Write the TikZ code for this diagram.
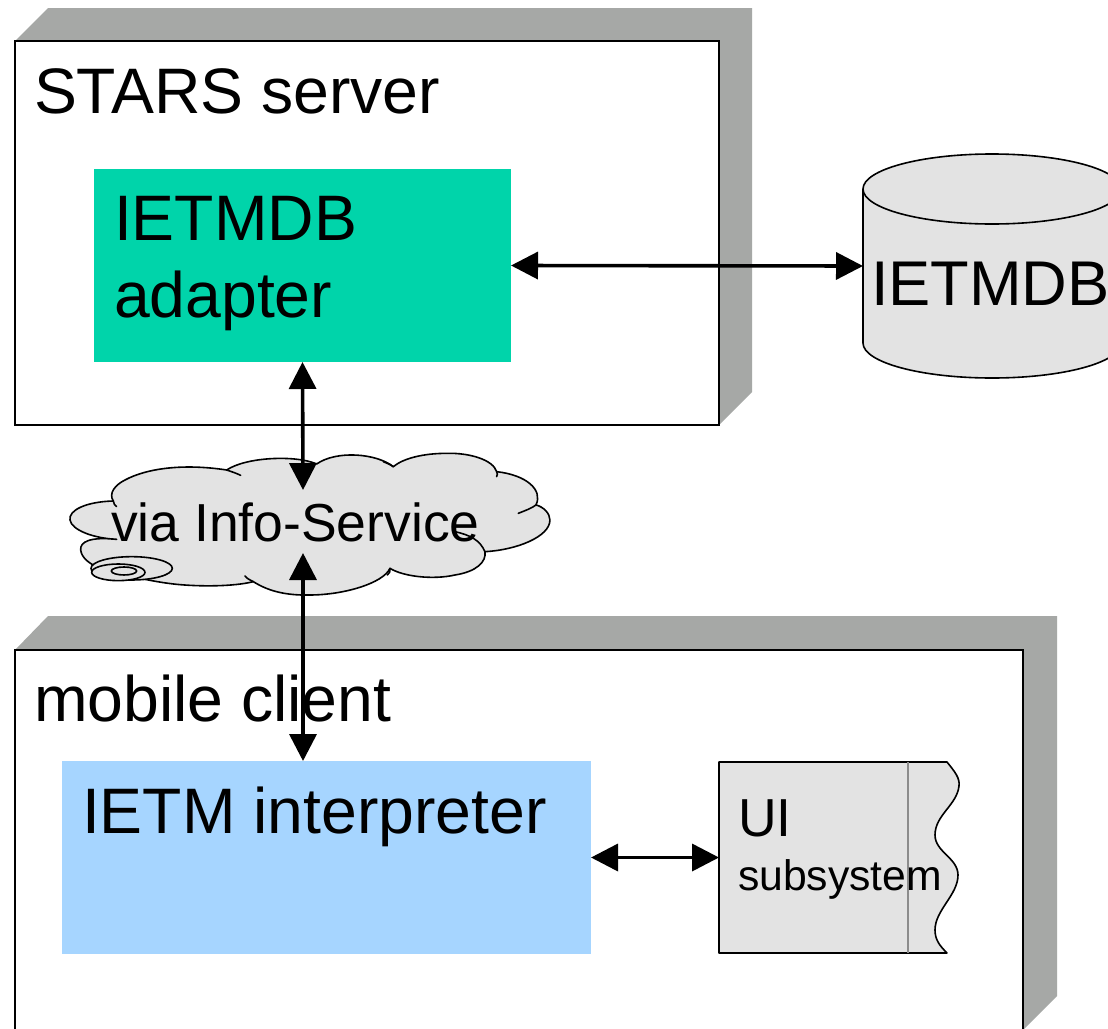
\documentclass[tikz,border=0pt]{standalone}
\usepackage{fontspec}
\setmainfont{Liberation Sans}
\usetikzlibrary{arrows.meta}
\definecolor{sidegrey}{HTML}{A6A8A6}
\definecolor{shapegrey}{HTML}{E3E3E3}
\definecolor{tealbox}{HTML}{00D4AA}
\definecolor{bluebox}{HTML}{A6D5FF}
\tikzset{
  bigtext/.style={inner sep=0pt,outer sep=0pt,anchor=base west,font=\fontsize{64.3}{70}\selectfont},
  dbtext/.style={inner sep=0pt,outer sep=0pt,anchor=base west,font=\fontsize{63.2}{70}\selectfont},
  midtext/.style={inner sep=0pt,outer sep=0pt,anchor=base west,font=\fontsize{53.5}{60}\selectfont},
  smalltext/.style={inner sep=0pt,outer sep=0pt,anchor=base west,font=\fontsize{42.7}{50}\selectfont},
  frontbox/.style={draw=black,fill=white,line width=1.6pt,inner sep=0pt,outer sep=0pt,anchor=north west},
  flatbox/.style={inner sep=0pt,outer sep=0pt,anchor=north west},
  sideface/.style={fill=sidegrey,draw=none},
  outline/.style={draw=black,line width=1.6pt,line join=round},
  tailline/.style={draw=black,line width=1.6pt,line cap=round},
  twoway/.style={line width=3.6pt,{Triangle[length=27pt,width=27pt]}-{Triangle[length=27pt,width=27pt]}},
}
\begin{document}
\begin{tikzpicture}[x=1pt,y=-1pt]
\clip (0,0) rectangle (1108,1028);
\fill[white] (0,0) rectangle (1108,1028);
% server block
\fill[sideface] (15,41) -- (48,8) -- (752,8) -- (752,392) -- (719,425) -- cycle;
\node[frontbox,minimum width=704pt,minimum height=384pt] (server) at (15,41) {};
\node[bigtext] (servertext) at (34,113) {STARS server};
\node[flatbox,fill=tealbox,minimum width=417pt,minimum height=193pt] (adapter) at (94,169) {};
\node[bigtext] (adaptera) at (114,240) {IETMDB};
\node[bigtext] (adapterb) at (114,317) {adapter};
% database cylinder
\path[fill=shapegrey] (863,189) -- (863,343) arc[start angle=180,end angle=0,x radius=129,y radius=35]
  -- (1121,189) -- cycle;
\draw[outline,fill=shapegrey] (992,189) ellipse[x radius=129,y radius=35];
\draw[outline] (863,189) -- (863,343) arc[start angle=180,end angle=0,x radius=129,y radius=35] -- (1121,189);
\node[dbtext] (db) at (871,305) {IETMDB};
\coordinate (dbwest) at (863,266);
% cloud, drawn in units of a third of a pixel
\begin{scope}[shift={(50,440)},x=.3333pt,y=-.3333pt]
\path[fill=shapegrey,outline]
  (190,183) .. controls (110,185) and (55,210) .. (60,240)
  .. controls (65,270) and (130,295) .. (200,298)
  .. controls (120,290) and (90,305) .. (92,330)
  .. controls (95,355) and (120,370) .. (135,378)
  .. controls (200,400) and (300,425) .. (380,433)
  .. controls (450,440) and (550,440) .. (610,425)
  .. controls (650,450) and (700,467) .. (780,465)
  .. controls (880,465) and (1000,430) .. (1020,385)
  .. controls (1060,410) and (1150,420) .. (1215,405)
  .. controls (1280,395) and (1310,365) .. (1305,335)
  .. controls (1400,330) and (1500,290) .. (1500,240)
  .. controls (1500,220) and (1480,200) .. (1458,195)
  .. controls (1480,150) and (1430,105) .. (1340,95)
  .. controls (1330,60) and (1260,38) .. (1190,40)
  .. controls (1120,40) and (1060,55) .. (1030,80)
  .. controls (980,40) and (860,30) .. (800,72)
  .. controls (740,45) and (590,50) .. (530,90)
  .. controls (400,70) and (290,85) .. (225,120)
  .. controls (195,135) and (175,160) .. (190,183) -- cycle;
\draw[tailline] (190,183) .. controls (190,190) and (195,197) .. (200,200);
\draw[tailline] (530,90) .. controls (545,95) and (560,100) .. (572,106);
\draw[tailline] (1030,80) .. controls (1020,72) and (1010,70) .. (1000,65);
\draw[tailline] (1340,95) .. controls (1343,100) and (1343,105) .. (1340,110);
\draw[tailline] (1458,195) .. controls (1445,205) and (1425,212) .. (1405,220);
\draw[tailline] (1305,335) .. controls (1290,300) and (1260,285) .. (1215,275);
\draw[tailline] (1020,385) .. controls (1020,395) and (1020,400) .. (1012,405);
\draw[tailline] (610,425) .. controls (600,420) and (590,415) .. (585,408);
\path[fill=shapegrey,outline] (245,385) ellipse[x radius=122,y radius=35];
\path[fill=shapegrey,outline] (205,397) ellipse[x radius=80,y radius=25];
\path[fill=shapegrey,outline] (222,393) ellipse[x radius=38,y radius=12];
\end{scope}
\node[midtext] (cloud) at (111,541) {via Info-Service};
\coordinate (cloudtop) at (303,490);
\coordinate (cloudbottom) at (303,553);
% client block
\fill[sideface] (15,650) -- (48,616) -- (1057,616) -- (1057,996) -- (1023,1030) -- (1023,650) -- cycle;
\node[frontbox,minimum width=1008pt,minimum height=420pt] (client) at (15,650) {};
\node[bigtext] (clienttext) at (34,721) {mobile client};
\node[flatbox,fill=bluebox,minimum width=529pt,minimum height=193pt] (interp) at (62,761) {};
\node[bigtext] (interptext) at (82,833) {IETM interpreter};
% UI subsystem
\path[fill=shapegrey,outline] (719,762) -- (947,762)
  .. controls (955,772) and (960,778) .. (959,786)
  .. controls (957,805) and (935,815) .. (935,835)
  .. controls (935,852) and (958,858) .. (958,875)
  .. controls (958,895) and (935,910) .. (935,930)
  .. controls (935,940) and (940,946) .. (947,953)
  -- (719,953) -- cycle;
\draw[draw=black!45,line width=1.2pt] (908,762) -- (908,953);
\node[flatbox,minimum width=228pt,minimum height=191pt] (ui) at (719,762) {};
\node[midtext] (uitext) at (738,836) {UI};
\node[smalltext] (subtext) at (738,890) {subsystem};
% connectors
\draw[twoway] (adapter.east) -- (dbwest);
\draw[twoway] (adapter.south) -- (cloudtop);
\draw[twoway] (cloudbottom) -- (interp.north -| cloudbottom);
\draw[twoway] (interp.east) -- (ui.west);
\end{tikzpicture}
\end{document}
